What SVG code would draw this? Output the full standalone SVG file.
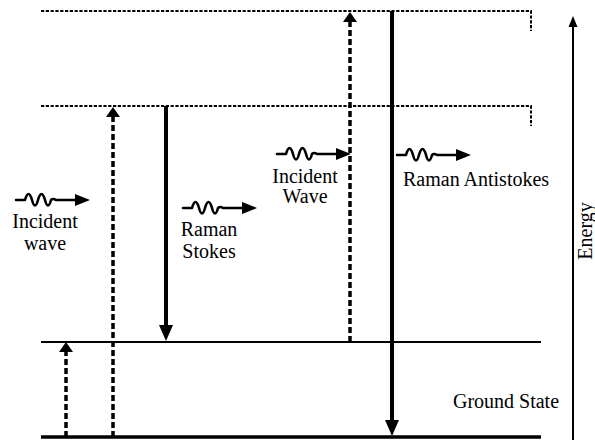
<svg xmlns="http://www.w3.org/2000/svg" width="595" height="440" viewBox="0 0 595 440">
  <style>
    .lbl { font-family: "Liberation Serif", "Times New Roman", Times, serif; font-size: 20px; fill: #000; }
    .virt { fill: none; stroke: #000; stroke-width: 2; stroke-dasharray: 3.2 1.6; }
    .level { fill: none; stroke: #000; }
    .dash-arrow { fill: none; stroke: #000; stroke-width: 3.5; stroke-dasharray: 6 3; }
    .solid-arrow { fill: none; stroke: #000; stroke-width: 4; }
    .head { fill: #000; stroke: none; }
    .wave { fill: none; stroke: #000; stroke-width: 2.6; stroke-linecap: round; stroke-linejoin: round; }
  </style>
  <defs>
    <!-- photon symbol: short lead, wiggle, tail, arrowhead -->
    <g id="photon">
      <path class="wave" d="M0 0 H9 q3.5 -12 7 0 q3 11 6 0 q3.5 -12 7 0 q3 11 6 0 q2 -2 5 0 H61"/>
      <polygon class="head" points="59,-6 74,0 59,6"/>
    </g>
  </defs>

  <rect width="595" height="440" fill="#fff"/>

  <!-- energy levels -->
  <g id="virtual-level-2">
    <path class="virt" d="M41 11 H531 V31"/>
  </g>
  <g id="virtual-level-1">
    <path class="virt" d="M41 106 H531 V126"/>
  </g>
  <g id="vibrational-level">
    <line class="level" x1="41" y1="342" x2="541" y2="342" stroke-width="2"/>
  </g>
  <g id="ground-level">
    <line class="level" x1="41" y1="437" x2="541" y2="437" stroke-width="3.5"/>
    <text class="lbl" x="506" y="408" text-anchor="middle">Ground State</text>
  </g>

  <!-- transitions -->
  <g id="connectors">
    <!-- vibrational excitation -->
    <line class="dash-arrow" x1="66" y1="437" x2="66" y2="352"/>
    <polygon class="head" points="66,342 59,352 73,352"/>
    <!-- Stokes: absorption -->
    <line class="dash-arrow" x1="113" y1="437" x2="113" y2="117"/>
    <polygon class="head" points="113,107 106,117 120,117"/>
    <!-- Stokes: emission -->
    <line class="solid-arrow" x1="166" y1="106" x2="166" y2="326"/>
    <polygon class="head" points="166,341 159,325 173,325"/>
    <!-- anti-Stokes: absorption -->
    <line class="dash-arrow" x1="350" y1="342" x2="350" y2="22"/>
    <polygon class="head" points="350,12 343,22 357,22"/>
    <!-- anti-Stokes: emission -->
    <line class="solid-arrow" x1="392" y1="11" x2="392" y2="421"/>
    <polygon class="head" points="392,436 385,420 399,420"/>
    <!-- energy axis -->
    <line x1="573" y1="440" x2="573" y2="26" stroke="#000" stroke-width="2"/>
    <polygon class="head" points="573,16 568.5,27 577.5,27"/>
  </g>

  <!-- photons and labels -->
  <g id="incident-wave-1">
    <use href="#photon" x="16" y="200"/>
    <text class="lbl" x="45" y="228" text-anchor="middle">Incident</text>
    <text class="lbl" x="45" y="250" text-anchor="middle">wave</text>
  </g>
  <g id="raman-stokes">
    <use href="#photon" x="183" y="208"/>
    <text class="lbl" x="209" y="236" text-anchor="middle">Raman</text>
    <text class="lbl" x="209" y="258" text-anchor="middle">Stokes</text>
  </g>
  <g id="incident-wave-2">
    <use href="#photon" x="277" y="154"/>
    <text class="lbl" x="305" y="183" text-anchor="middle">Incident</text>
    <text class="lbl" x="305" y="203" text-anchor="middle">Wave</text>
  </g>
  <g id="raman-antistokes">
    <use href="#photon" x="397" y="155"/>
    <text class="lbl" x="403" y="186">Raman Antistokes</text>
  </g>
  <g id="energy-label">
    <text class="lbl" x="0" y="0" font-size="17" text-anchor="middle" transform="translate(592 231) rotate(-90)">Energy</text>
  </g>
</svg>
